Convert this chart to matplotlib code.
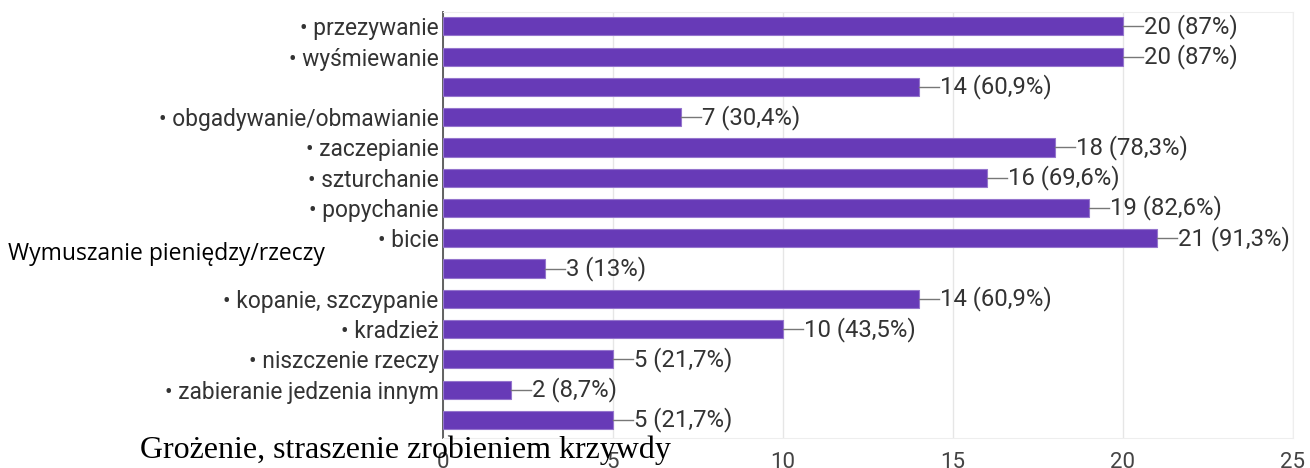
import matplotlib.pyplot as plt

# data (labels hidden in the original are left empty)
labels = ["• przezywanie", "• wyśmiewanie", "", "• obgadywanie/obmawianie",
          "• zaczepianie", "• szturchanie", "• popychanie", "• bicie", "",
          "• kopanie, szczypanie", "• kradzież", "• niszczenie rzeczy",
          "• zabieranie jedzenia innym", ""]
counts = [20, 20, 14, 7, 18, 16, 19, 21, 3, 14, 10, 5, 2, 5]
percents = ["87%", "87%", "60,9%", "30,4%", "78,3%", "69,6%", "82,6%",
            "91,3%", "13%", "60,9%", "43,5%", "21,7%", "8,7%", "21,7%"]
xticks = [0, 5, 10, 15, 20, 25]

purple = "#673ab7"
text_col = "#333333"

fig = plt.figure(figsize=(13.1, 4.68), dpi=100)
ax = fig.add_axes([0.338, 0.064, 0.649, 0.91])

ypos = list(range(len(counts)))
ax.barh(ypos, counts, height=0.6, color=purple, edgecolor="#9575cd", linewidth=0.8, zorder=3)

# value labels with a short connector line
for y, c, p in zip(ypos, counts, percents):
    ax.plot([c, c + 0.6], [y, y], color="#777777", lw=1, zorder=3)
    ax.text(c + 0.62, y, f"{c} ({p})", va="center", ha="left",
            fontsize=17.2, color=text_col, family="Roboto")

ax.set_xlim(0, 25)
ax.set_ylim(13.6, -0.47)
ax.set_xticks(xticks)
ax.set_xticklabels([str(t) for t in xticks], fontsize=16, color="#444444", family="Roboto")
ax.set_yticks(ypos)
ax.set_yticklabels(labels, fontsize=16.4, color=text_col, family="Roboto")
ax.tick_params(axis="both", length=0)
ax.tick_params(axis="y", pad=3)
ax.tick_params(axis="x", pad=10)

ax.grid(axis="x", color="#e6e6e6", lw=1, zorder=0)
for side in ["top", "right", "bottom"]:
    ax.spines[side].set_color("#eeeeee")
ax.spines["left"].set_color("#555555")
ax.spines["left"].set_linewidth(1.3)

# text pasted over the chart in the original picture
fig.text(8 / 1310, 1 - 254 / 468, "Wymuszanie pieniędzy/rzeczy", fontsize=16.5,
         family="Open Sans", color="black", va="center", ha="left")
fig.text(140 / 1310, 1 - 450 / 468, "Grożenie, straszenie zrobieniem krzywdy",
         fontsize=23, family="Liberation Serif", color="black", va="center", ha="left")

fig.savefig("out.png", dpi=100)
